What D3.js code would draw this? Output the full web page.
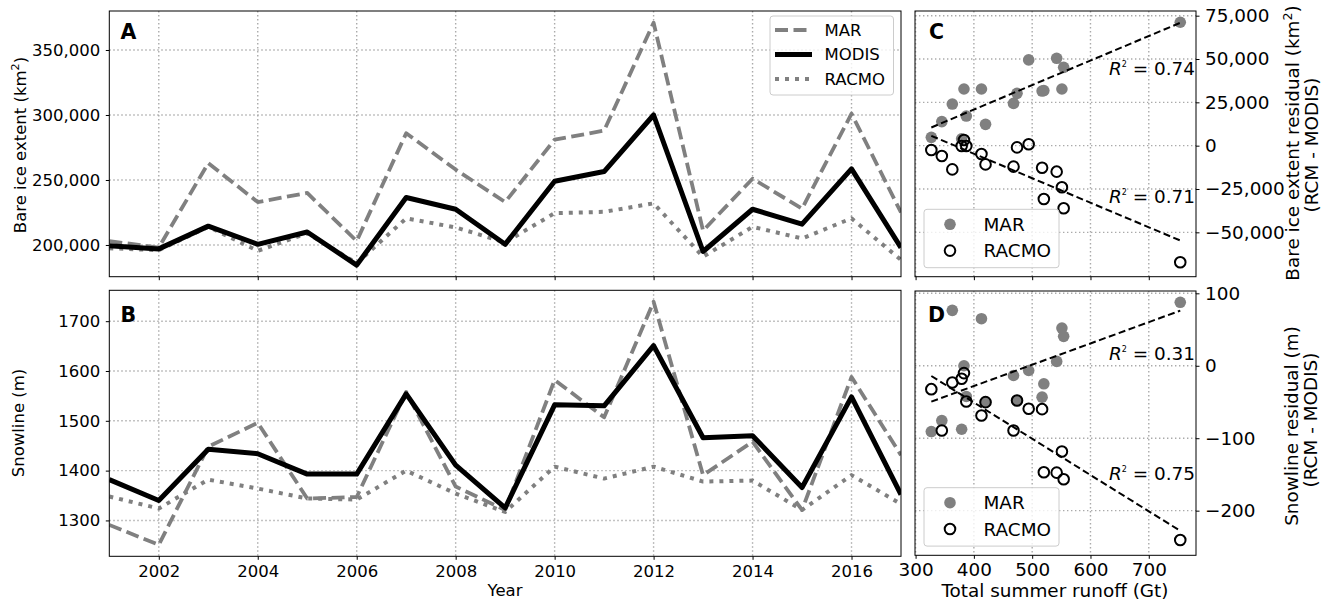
<!DOCTYPE html>
<html><head><meta charset="utf-8">
<script src="https://cdn.jsdelivr.net/npm/d3@7"></script>
<style>
body{margin:0;background:#fff;}
svg{display:block;font-family:"DejaVu Sans",sans-serif;}
</style></head><body>
<svg id="chart" width="1329" height="601"></svg>
<script>
// ---------- DATA ----------
const years = [2001,2002,2003,2004,2005,2006,2007,2008,2009,2010,2011,2012,2013,2014,2015,2016,2017];
const bareMAR   = [203000,198000,263000,233000,240000,203000,286000,258000,233000,281000,288000,371000,211000,251000,228000,301000,225000];
const bareMODIS = [199500,197000,214500,200500,210000,184500,236500,227500,200500,249000,256500,300000,195000,227500,216000,258500,198000];
const bareRACMO = [197500,196000,214000,195500,209000,186000,220500,213500,202000,224500,225500,232000,191000,214000,205000,220500,188500];
const snowMAR   = [1291,1251,1448,1496,1344,1347,1558,1368,1321,1582,1507,1739,1391,1458,1321,1588,1431];
const snowMODIS = [1382,1340,1443,1434,1393,1393,1554,1411,1325,1532,1530,1651,1466,1470,1366,1548,1352];
const snowRACMO = [1348,1324,1382,1364,1344,1342,1400,1354,1317,1408,1384,1408,1378,1380,1321,1391,1333];

const runoff         = [327,345,363,379,383,387,413,420,468,474,494,517,520,542,551,554,754];
const bareResidMAR   = [4800,13900,24000,4000,32700,17100,32700,12300,24400,30200,49500,31500,31800,50400,32700,45200,71200];
const bareResidRACMO = [-2500,-6000,-13700,-200,3300,-200,-4800,-10800,-12100,-1000,800,-12700,-30800,-15000,-24000,-36100,-67300];
const snowResidMAR   = [-90.8,-75.6,76.5,-87.6,0,-42.4,65,-50.2,-13.4,-47.9,-6.5,-43.3,-24.9,6,52,40.6,87.6];
const snowResidRACMO = [-32.3,-89.4,-23,-18,-10.1,-49.3,-68.7,-50.2,-89.4,-47.9,-59.4,-59.9,-147,-147.5,-118.4,-156.7,-240.5];

const yearTicks   = [2002,2004,2006,2008,2010,2012,2014,2016];
const bareTicks   = [200000,250000,300000,350000];
const snowTicks   = [1300,1400,1500,1600,1700];
const runoffTicks = [300,400,500,600,700];
const bareResTicks= [-50000,-25000,0,25000,50000,75000];
const snowResTicks= [-200,-100,0,100];
const r2Bare = ["0.74","0.71"];
const r2Snow = ["0.31","0.75"];
const seriesNames = ["MAR","MODIS","RACMO"];
const scatterNames = ["MAR","RACMO"];

// ---------- LAYOUT ----------
const svg = d3.select("#chart");
const FS = 16.5;   // left panels
const FSR = 18.4;  // right panels
const GRAY = "#808080";
const P = {
  A:{x0:109.3,x1:901,y0:11,y1:276.7},
  B:{x0:109.3,x1:901,y0:290.3,y1:556.3},
  C:{x0:915,x1:1196,y0:11,y1:276.7},
  D:{x0:915,x1:1196,y0:291,y1:555.3}
};
const xYear = d3.scaleLinear().domain([2001,2017]).range([P.A.x0,P.A.x1]);
const yA = d3.scaleLinear().domain([175600,380000]).range([P.A.y1,P.A.y0]);
const yB = d3.scaleLinear().domain([1228,1762]).range([P.B.y1,P.B.y0]);
const xRun = d3.scaleLinear().domain([299,781]).range([P.C.x0,P.C.x1]);
const yC = d3.scaleLinear().domain([-75600,77700]).range([P.C.y1,P.C.y0]);
const yD = d3.scaleLinear().domain([-261.6,103.2]).range([P.D.y1,P.D.y0]);

const defs = svg.append("defs");
Object.entries(P).forEach(([k,b])=>{
  defs.append("clipPath").attr("id","clip"+k).append("rect")
    .attr("x",b.x0).attr("y",b.y0).attr("width",b.x1-b.x0).attr("height",b.y1-b.y0);
});

function grid(b, xs, xt, ys, yt){
  const g = svg.append("g");
  xt.forEach(v=>g.append("line").attr("x1",xs(v)).attr("x2",xs(v)).attr("y1",b.y0).attr("y2",b.y1));
  yt.forEach(v=>g.append("line").attr("x1",b.x0).attr("x2",b.x1).attr("y1",ys(v)).attr("y2",ys(v)));
  g.selectAll("line").attr("stroke","#aaaaaa").attr("stroke-width",1.4).attr("stroke-dasharray","1.4,2.6");
}
function frame(b){
  svg.append("rect").attr("x",b.x0).attr("y",b.y0).attr("width",b.x1-b.x0).attr("height",b.y1-b.y0)
    .attr("fill","none").attr("stroke","#000").attr("stroke-width",1);
}
function styleAxis(g, fs){
  g.select(".domain").remove();
  g.selectAll(".tick line").attr("stroke","#000").attr("stroke-width",1);
  g.selectAll(".tick text").attr("font-size",fs).attr("fill","#000").attr("font-family","DejaVu Sans");
}
const fmtComma = d3.format(",");

grid(P.A, xYear, yearTicks, yA, bareTicks);
grid(P.B, xYear, yearTicks, yB, snowTicks);
grid(P.C, xRun, runoffTicks, yC, bareResTicks);
grid(P.D, xRun, runoffTicks, yD, snowResTicks);

const lineStyles = {
  MAR:{stroke:GRAY,width:3.8,dash:"13,5.5"},
  MODIS:{stroke:"#000",width:5,dash:null},
  RACMO:{stroke:GRAY,width:4,dash:"4,6"}
};
function drawSeries(panelKey, yscale, data, name){
  const st = lineStyles[name];
  const line = d3.line().x((d,i)=>xYear(years[i])).y(d=>yscale(d));
  svg.append("path").attr("clip-path","url(#clip"+panelKey+")")
    .attr("d",line(data)).attr("fill","none").attr("stroke",st.stroke)
    .attr("stroke-width",st.width).attr("stroke-linejoin","round")
    .attr("stroke-dasharray",st.dash);
}
drawSeries("A",yA,bareMAR,"MAR");
drawSeries("A",yA,bareRACMO,"RACMO");
drawSeries("A",yA,bareMODIS,"MODIS");
drawSeries("B",yB,snowMAR,"MAR");
drawSeries("B",yB,snowRACMO,"RACMO");
drawSeries("B",yB,snowMODIS,"MODIS");

let g = svg.append("g").attr("transform",`translate(0,${P.A.y1})`)
  .call(d3.axisBottom(xYear).tickValues(yearTicks).tickSize(3.5).tickFormat(""));
styleAxis(g, FS);
g = svg.append("g").attr("transform",`translate(${P.A.x0},0)`)
  .call(d3.axisLeft(yA).tickValues(bareTicks).tickSize(3.5).tickPadding(5.5).tickFormat(fmtComma));
styleAxis(g, FS);
g = svg.append("g").attr("transform",`translate(0,${P.B.y1})`)
  .call(d3.axisBottom(xYear).tickValues(yearTicks).tickSize(3.5).tickPadding(5.5).tickFormat(d3.format("d")));
styleAxis(g, FS);
g = svg.append("g").attr("transform",`translate(${P.B.x0},0)`)
  .call(d3.axisLeft(yB).tickValues(snowTicks).tickSize(3.5).tickPadding(5.5).tickFormat(d3.format("d")));
styleAxis(g, FS);

function linfit(xs, ys){
  const mx = d3.mean(xs), my = d3.mean(ys);
  let sxy=0,sxx=0; xs.forEach((x,i)=>{sxy+=(x-mx)*(ys[i]-my); sxx+=(x-mx)*(x-mx);});
  const m = sxy/sxx; return {m, b:my-m*mx};
}
function scatter(key, yscale, marVals, racVals){
  const gg = svg.append("g").attr("clip-path","url(#clip"+key+")");
  gg.selectAll(".mar").data(marVals).join("circle")
    .attr("cx",(d,i)=>xRun(runoff[i])).attr("cy",d=>yscale(d)).attr("r",5.8).attr("fill",GRAY);
  gg.selectAll(".rac").data(racVals).join("circle")
    .attr("cx",(d,i)=>xRun(runoff[i])).attr("cy",d=>yscale(d)).attr("r",5.3)
    .attr("fill","none").attr("stroke","#000").attr("stroke-width",2);
  const xmin = d3.min(runoff), xmax = d3.max(runoff);
  [marVals, racVals].forEach(vals=>{
    const f = linfit(runoff, vals);
    gg.append("line").attr("x1",xRun(xmin)).attr("x2",xRun(xmax))
      .attr("y1",yscale(f.m*xmin+f.b)).attr("y2",yscale(f.m*xmax+f.b))
      .attr("stroke","#000").attr("stroke-width",2).attr("stroke-dasharray","7,3.5");
  });
}
scatter("C", yC, bareResidMAR, bareResidRACMO);
scatter("D", yD, snowResidMAR, snowResidRACMO);

g = svg.append("g").attr("transform",`translate(0,${P.C.y1})`)
  .call(d3.axisBottom(xRun).tickValues(runoffTicks).tickSize(3.5).tickFormat(""));
styleAxis(g, FSR);
g = svg.append("g").attr("transform",`translate(${P.C.x1},0)`)
  .call(d3.axisRight(yC).tickValues(bareResTicks).tickSize(3.5).tickPadding(5.5).tickFormat(fmtComma));
styleAxis(g, FSR);
g = svg.append("g").attr("transform",`translate(0,${P.D.y1})`)
  .call(d3.axisBottom(xRun).tickValues(runoffTicks).tickSize(3.5).tickPadding(4.5).tickFormat(d3.format("d")));
styleAxis(g, FSR);
g = svg.append("g").attr("transform",`translate(${P.D.x1},0)`)
  .call(d3.axisRight(yD).tickValues(snowResTicks).tickSize(3.5).tickPadding(5.5).tickFormat(d3.format("d")));
styleAxis(g, FSR);

function r2(x, y, val){
  const t = svg.append("text").attr("x",x).attr("y",y).attr("text-anchor","end")
    .attr("font-size",18.4).attr("fill","#000");
  t.append("tspan").attr("font-style","italic").text("R");
  t.append("tspan").attr("font-size",8).attr("dy",-8).text("2");
  t.append("tspan").attr("dy",8).text(" = "+val);
}
r2(1195, 75, r2Bare[0]);
r2(1195, 203, r2Bare[1]);
r2(1195, 360, r2Snow[0]);
r2(1195, 479.5, r2Snow[1]);

Object.values(P).forEach(frame);

function legendBox(x,y,w,h){
  svg.append("rect").attr("x",x).attr("y",y).attr("width",w).attr("height",h).attr("rx",3)
    .attr("fill","#fff").attr("fill-opacity",0.8).attr("stroke","#cccccc").attr("stroke-width",1);
}
legendBox(770,16,123.5,79);
seriesNames.forEach((n,i)=>{
  const yy = 30 + i*24.5;
  const st = lineStyles[n];
  svg.append("line").attr("x1",775).attr("x2",812).attr("y1",yy).attr("y2",yy)
    .attr("stroke",st.stroke).attr("stroke-width",st.width).attr("stroke-dasharray",st.dash);
  svg.append("text").attr("x",824.5).attr("y",yy).attr("dy","0.36em").attr("font-size",FS).text(n);
});
function scatterLegend(x,y){
  legendBox(x,y,135,58.4);
  scatterNames.forEach((n,i)=>{
    const yy = y + 15 + i*26.3;
    const c = svg.append("circle").attr("cx",x+26).attr("cy",yy);
    if(n==="MAR") c.attr("r",5.8).attr("fill",GRAY);
    else c.attr("r",5.3).attr("fill","none").attr("stroke","#000").attr("stroke-width",2);
    svg.append("text").attr("x",x+59.5).attr("y",yy).attr("dy","0.36em").attr("font-size",FSR).text(n);
  });
}
scatterLegend(924,209.3);
scatterLegend(924,487.7);

[["A",120.5,38.5],["B",120.5,321.5],["C",929,38.5],["D",928,321.5]].forEach(([t,x,y])=>{
  svg.append("text").attr("x",x).attr("y",y).attr("font-size",20.5).attr("font-weight","bold").text(t);
});

function vlabel(x,y,parts,fs){
  const t = svg.append("text").attr("transform",`translate(${x},${y}) rotate(-90)`)
    .attr("text-anchor","middle").attr("dy","0.35em").attr("font-size",fs);
  parts.forEach(p=>{
    const s = t.append("tspan").text(p.t);
    if(p.sup){ s.attr("font-size",fs*0.68).attr("dy",-fs*0.42); }
    if(p.after){ s.attr("dy",fs*0.42); }
  });
}
vlabel(20,145,[{t:"Bare ice extent (km"},{t:"2",sup:true},{t:")",after:true}],FS);
vlabel(18,423,[{t:"Snowline (m)"}],FS);
vlabel(1293,143,[{t:"Bare ice extent residual (km"},{t:"2",sup:true},{t:")",after:true}],FSR);
vlabel(1311.5,145,[{t:"(RCM - MODIS)"}],FSR);
vlabel(1291.5,426,[{t:"Snowline residual (m)"}],FSR);
vlabel(1311,420,[{t:"(RCM - MODIS)"}],FSR);
svg.append("text").attr("x",505).attr("y",596).attr("text-anchor","middle").attr("font-size",FS).text("Year");
svg.append("text").attr("x",1055).attr("y",597).attr("text-anchor","middle").attr("font-size",FSR).text("Total summer runoff (Gt)");
</script>
</body></html>
